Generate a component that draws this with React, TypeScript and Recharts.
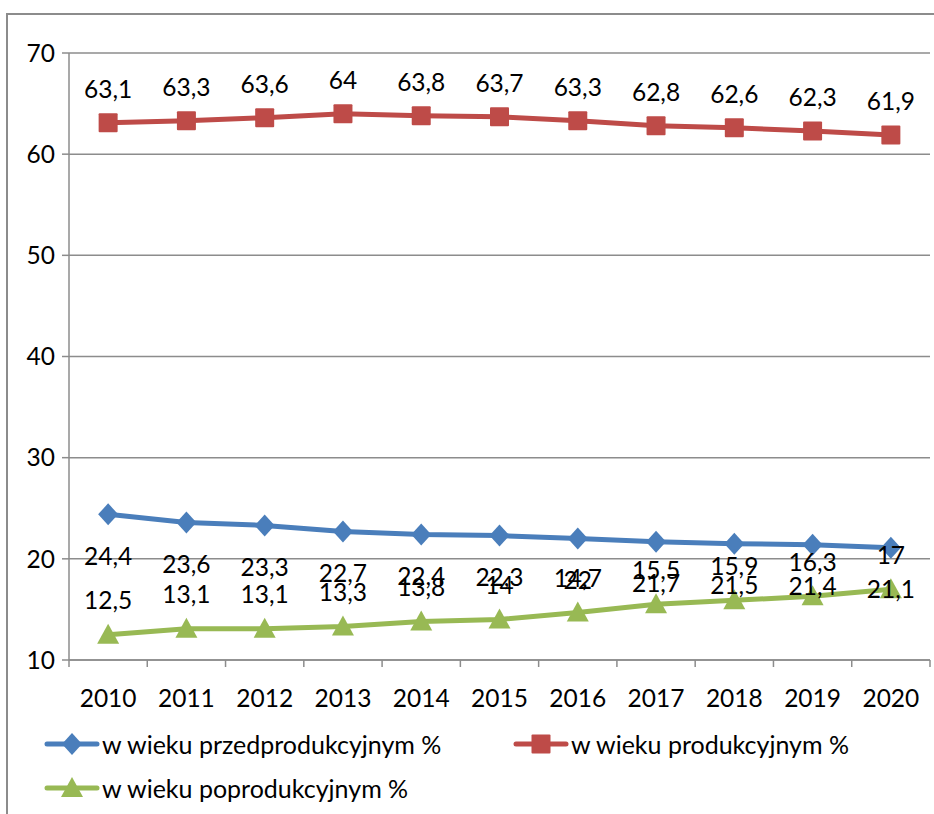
import React from 'react';
import { LineChart, Line, XAxis, YAxis, CartesianGrid, LabelList } from 'recharts';

const years = ['2010', '2011', '2012', '2013', '2014', '2015', '2016', '2017', '2018', '2019', '2020'];
const przedprodukcyjny = [24.4, 23.6, 23.3, 22.7, 22.4, 22.3, 22, 21.7, 21.5, 21.4, 21.1];
const produkcyjny = [63.1, 63.3, 63.6, 64, 63.8, 63.7, 63.3, 62.8, 62.6, 62.3, 61.9];
const poprodukcyjny = [12.5, 13.1, 13.1, 13.3, 13.8, 14, 14.7, 15.5, 15.9, 16.3, 17];
const yTicks = [10, 20, 30, 40, 50, 60, 70];

const data = years.map((year, i) => ({
  idx: i,
  year,
  przed: przedprodukcyjny[i],
  prod: produkcyjny[i],
  poprod: poprodukcyjny[i],
}));

// boundaries between categories (Excel style tick marks)
const xBounds = [...years.map((_, i) => i - 0.5), years.length - 0.5];

const W = 934;
const H = 814;
const margin = { top: 53, right: 4, left: 9, bottom: 114 };
const yAxisWidth = 60;
const step = (W - margin.left - margin.right - yAxisWidth) / years.length;

const font = 'Lato, "Open Sans", sans-serif';
const fontSize = 24.5;
const gray = '#8c8c8c';

type Shape = 'diamond' | 'square' | 'triangle';

const series: { key: string; name: string; color: string; shape: Shape; dy: number }[] = [
  { key: 'przed', name: 'w wieku przedprodukcyjnym %', color: '#4a7ebb', shape: 'diamond', dy: 41 },
  { key: 'prod', name: 'w wieku produkcyjnym %', color: '#be4b48', shape: 'square', dy: -34 },
  { key: 'poprod', name: 'w wieku poprodukcyjnym %', color: '#98b954', shape: 'triangle', dy: -35 },
];

function Marker({ cx, cy, shape, color }: { cx: number; cy: number; shape: Shape; color: string }) {
  if (shape === 'diamond') {
    return <polygon points={`${cx},${cy - 11} ${cx + 10},${cy} ${cx},${cy + 11} ${cx - 10},${cy}`} fill={color} />;
  }
  if (shape === 'square') {
    return <rect x={cx - 9.5} y={cy - 9.5} width={19} height={19} fill={color} rx={1} />;
  }
  return <polygon points={`${cx},${cy - 11} ${cx + 11},${cy + 9} ${cx - 11},${cy + 9}`} fill={color} />;
}

const fmt = (v: number) => String(v).replace('.', ',');

const makeLabel = (dy: number) => (p: any) => {
  const vb = p.viewBox || {};
  const x = typeof p.x === 'number' ? p.x : vb.x;
  const y = typeof p.y === 'number' ? p.y : vb.y;
  return (
    <text x={x} y={y + dy} textAnchor="middle" dominantBaseline="central" fill="#000" fontFamily={font} fontSize={fontSize}>
      {fmt(p.value)}
    </text>
  );
};

const XTick = (p: any) => {
  const i = Math.round(p.payload.value + 0.5);
  if (i < 0 || i >= years.length) return <g />;
  return (
    <text x={p.x + step / 2} y={p.y + 30} textAnchor="middle" dominantBaseline="central" fill="#000" fontFamily={font} fontSize={fontSize}>
      {years[i]}
    </text>
  );
};

function LegendIcon({ shape, color }: { shape: Shape; color: string }) {
  return (
    <svg width={56} height={24} style={{ display: 'block' }}>
      <line x1={3} y1={12} x2={53} y2={12} stroke={color} strokeWidth={5} strokeLinecap="round" />
      <Marker cx={28} cy={12} shape={shape} color={color} />
    </svg>
  );
}

export default function App() {
  return (
    <div style={{ position: 'absolute', left: 0, top: 0, width: W, height: H, background: '#fff', overflow: 'hidden' }}>
      <div
        style={{
          position: 'absolute',
          left: 6,
          top: 13,
          width: W,
          height: H,
          borderTop: `2px solid ${gray}`,
          borderLeft: `2px solid ${gray}`,
        }}
      />
      <div style={{ position: 'absolute', left: 0, top: 0 }}>
        <LineChart width={W} height={H} data={data} margin={margin}>
          <CartesianGrid horizontal vertical={false} stroke={gray} strokeWidth={1.5} />
          <XAxis
            dataKey="idx"
            type="number"
            domain={[-0.5, years.length - 0.5]}
            ticks={xBounds}
            interval={0}
            height={40}
            tickSize={7}
            tickMargin={0}
            stroke={gray}
            strokeWidth={1.5}
            tick={<XTick />}
          />
          <YAxis
            type="number"
            domain={[10, 70]}
            ticks={yTicks}
            interval={0}
            width={yAxisWidth}
            tickSize={7}
            tickMargin={7}
            stroke={gray}
            strokeWidth={1.5}
            tick={{ fill: '#000', fontFamily: font, fontSize }}
          />
          {series.map((s) => (
            <Line
              key={s.key}
              dataKey={s.key}
              name={s.name}
              stroke={s.color}
              strokeWidth={5}
              isAnimationActive={false}
              dot={(p: any) => <Marker key={`${s.key}-${p.index}`} cx={p.cx} cy={p.cy} shape={s.shape} color={s.color} />}
              activeDot={false}
            >
              <LabelList dataKey={s.key} content={makeLabel(s.dy)} />
            </Line>
          ))}
        </LineChart>
      </div>
      <div
        style={{
          position: 'absolute',
          left: 44,
          top: 722,
          display: 'grid',
          gridTemplateColumns: '469px 400px',
          gridAutoRows: '44px',
          fontFamily: font,
          fontSize: 25,
          color: '#000',
        }}
      >
        {series.map((s) => (
          <div key={s.key} style={{ display: 'flex', alignItems: 'center', gap: 2, whiteSpace: 'nowrap' }}>
            <LegendIcon shape={s.shape} color={s.color} />
            <span>{s.name}</span>
          </div>
        ))}
      </div>
    </div>
  );
}
